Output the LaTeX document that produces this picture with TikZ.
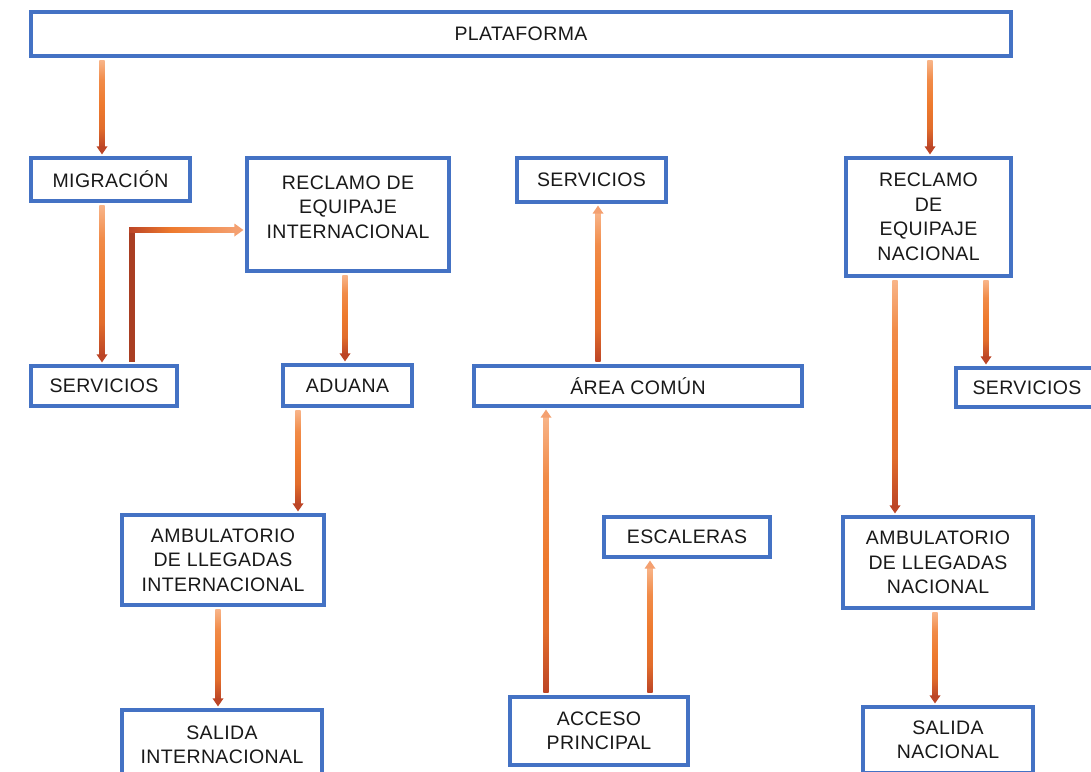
\documentclass[tikz,border=0pt]{standalone}
\usepackage{fontspec}
\setmainfont{Liberation Sans}[LetterSpace=2]
\usetikzlibrary{calc}

\definecolor{bblue}{HTML}{4472C4}
\definecolor{olight}{HTML}{F8B488}
\definecolor{omid}{HTML}{EE7A2E}
\definecolor{odark}{HTML}{BC4526}
\definecolor{ohead}{HTML}{F4A070}

% orange fill: light at the top, dark at the bottom
\pgfdeclareverticalshading{orangev}{100bp}{%
  color(0bp)=(odark); color(25bp)=(odark); color(36bp)=(omid!75!odark);
  color(50bp)=(omid); color(64bp)=(omid!70!olight); color(75bp)=(olight); color(100bp)=(olight)}
% orange fill: dark on the left, light on the right
\pgfdeclarehorizontalshading{orangeh}{100bp}{%
  color(0bp)=(odark); color(25bp)=(odark); color(45bp)=(omid);
  color(75bp)=(ohead); color(100bp)=(ohead)}

% vertical shaded arrow pointing down: #1 tail point, #2 head point
\newcommand\arrdown[2]{%
  \shade[shading=orangev]
    ($#1+(-2.7,3)$) rectangle ($#2+(2.7,-9)$);
  \fill[odark] ($#2+(0,-2)$) -- ($#2+(-5.5,-10)$) -- ($#2+(5.5,-10)$) -- cycle;}
% vertical shaded arrow pointing up: #1 tail point, #2 head point
\newcommand\arrup[2]{%
  \shade[shading=orangev]
    ($#1+(-2.7,-3)$) rectangle ($#2+(2.7,9)$);
  \fill[ohead] ($#2+(0,2)$) -- ($#2+(-5.5,10)$) -- ($#2+(5.5,10)$) -- cycle;}

\begin{document}
\begin{tikzpicture}[x=1pt, y=-1pt,
  box/.style={draw=bblue, line width=3.2pt, inner sep=0pt, align=center,
    font=\fontsize{19.5}{24.5}\selectfont, text=black!90},
  every label/.style={align=center, font=\fontsize{19.5}{24.5}\selectfont, text=black!90}]
\useasboundingbox (0,0) rectangle (1091,771);
\clip (0,0) rectangle (1091,771);
\fill[white] (0,0) rectangle (1091,771);

% boxes
\node[box, minimum width=980, minimum height=44] (plat) at (521,34) {PLATAFORMA};
\node[box, minimum width=159, minimum height=43] (mig) at (110.5,179.5) {MIGRACIÓN};
\node[box, minimum width=202, minimum height=113,
  label={[name=recintt, yshift=7.5pt]center:RECLAMO DE\\EQUIPAJE\\INTERNACIONAL}] (recint) at (348,214.5) {};
\node[box, minimum width=146, minimum height=40] (serl) at (104,386) {SERVICIOS};
\node[box, minimum width=129, minimum height=41] (adu) at (347.5,385.5) {ADUANA};
\node[box, minimum width=202, minimum height=90] (ambint) at (223,560) {AMBULATORIO\\DE LLEGADAS\\INTERNACIONAL};
\node[box, minimum width=200, minimum height=70] (salint) at (222,745) {SALIDA\\INTERNACIONAL};
\node[box, minimum width=149, minimum height=44] (serc) at (591.5,180) {SERVICIOS};
\node[box, minimum width=328, minimum height=40] (area) at (638,386) {ÁREA COMÚN};
\node[box, minimum width=166, minimum height=40] (esc) at (687,537) {ESCALERAS};
\node[box, minimum width=178, minimum height=68] (acc) at (599,731) {ACCESO\\PRINCIPAL};
\node[box, minimum width=165, minimum height=118] (recnac) at (928.5,217) {RECLAMO\\DE\\EQUIPAJE\\NACIONAL};
\node[box, minimum width=142, minimum height=39] (serr) at (1027,387.5) {SERVICIOS};
\node[box, minimum width=190, minimum height=91] (ambnac) at (938,562.5) {AMBULATORIO\\DE LLEGADAS\\NACIONAL};
\node[box, minimum width=170, minimum height=66] (salnac) at (948,740) {SALIDA\\NACIONAL};

% x positions of the connectors
\coordinate (a1) at (102,0);
\coordinate (a2) at (930,0);
\coordinate (a4) at (345,0);
\coordinate (a5) at (298,0);
\coordinate (a6) at (218,0);
\coordinate (a7) at (598,0);
\coordinate (a8) at (546,0);
\coordinate (a9) at (650,0);
\coordinate (a10) at (986,0);
\coordinate (a11) at (895,0);
\coordinate (a12) at (935,0);
\coordinate (k) at (132,230);

% connectors
\arrdown{(plat.south -| a1)}{(mig.north -| a1)}
\arrdown{(plat.south -| a2)}{(recnac.north -| a2)}
\arrdown{(mig.south -| a1)}{(serl.north -| a1)}
\arrdown{(recint.south -| a4)}{(adu.north -| a4)}
\arrdown{(adu.south -| a5)}{(ambint.north -| a5)}
\arrdown{(ambint.south -| a6)}{(salint.north -| a6)}
\arrup{(area.north -| a7)}{(serc.south -| a7)}
\arrup{(acc.north -| a8)}{(area.south -| a8)}
\arrup{(acc.north -| a9)}{(esc.south -| a9)}
\arrdown{(recnac.south -| a10)}{(serr.north -| a10)}
\arrdown{(recnac.south -| a11)}{(ambnac.north -| a11)}
\arrdown{(ambnac.south -| a12)}{(salnac.north -| a12)}

% elbow connector from SERVICIOS to RECLAMO DE EQUIPAJE INTERNACIONAL
\fill[odark!90!black]
  ($(serl.north -| k)+(-2.7,-2)$) rectangle ($(k)+(2.7,-2.7)$);
\shade[shading=orangeh]
  ($(k)+(-2.7,-2.7)$) rectangle ($(recint.west |- k)+(-10,2.7)$);
\fill[ohead] ($(recint.west |- k)+(-2,0)$) -- ($(recint.west |- k)+(-11,-6.5)$) -- ($(recint.west |- k)+(-11,6.5)$) -- cycle;
\end{tikzpicture}
\end{document}
